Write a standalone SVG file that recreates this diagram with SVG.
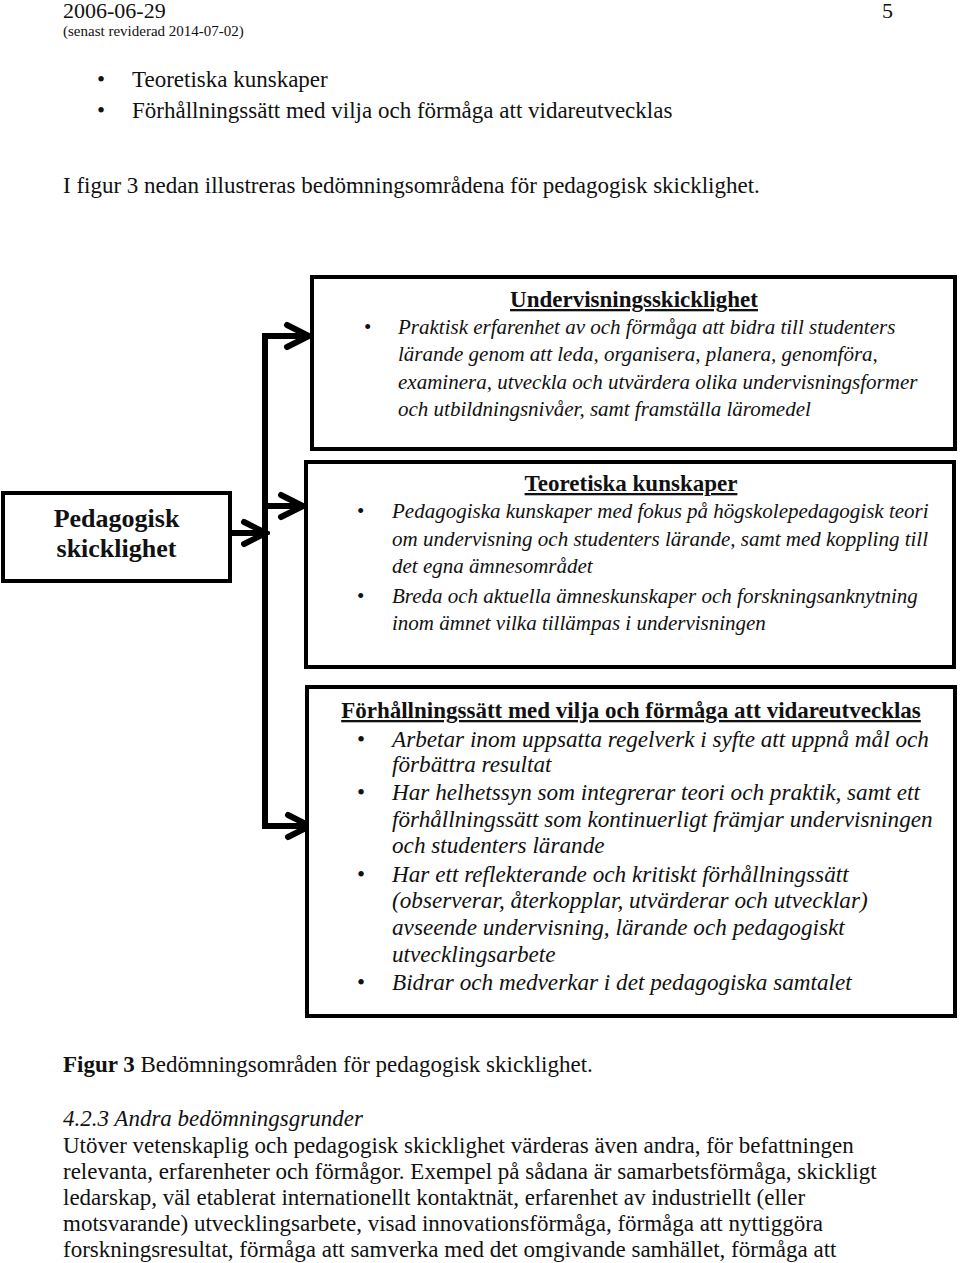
<svg xmlns="http://www.w3.org/2000/svg" width="960" height="1263" viewBox="0 0 960 1263">
<style>
text{font-family:"Liberation Serif","Times New Roman",serif;fill:#111}
.p{font-size:23px}
.hd{font-size:22px}
.sm{font-size:15px}
.it{font-style:italic}
.b{font-weight:bold}
.t{font-size:23px;font-weight:bold;text-decoration:underline;text-anchor:middle}
.i1{font-size:21px;font-style:italic}
.i3{font-size:23.2px;font-style:italic}
.bl{font-size:21px}
.box{fill:#fff;stroke:#000;stroke-width:4}
.con{fill:none;stroke:#000;stroke-width:6}
</style>
<defs>
<marker id="chev" viewBox="-30 -16 34 32" refX="0" refY="0" markerWidth="34" markerHeight="32" markerUnits="userSpaceOnUse" orient="auto">
<path d="M-22,-11 L0,0 L-22,11" fill="none" stroke="#000" stroke-width="6" stroke-linecap="round" stroke-linejoin="miter"/>
</marker>
</defs>
<rect width="960" height="1263" fill="#fff"/>

<g id="header">
<text class="hd" x="63" y="18">2006-06-29</text>
<text class="hd" x="882" y="18">5</text>
<text class="sm" x="63" y="36">(senast reviderad 2014-07-02)</text>
<text class="p" x="97" y="87">•</text>
<text class="p" x="132" y="87">Teoretiska kunskaper</text>
<text class="p" x="97" y="118">•</text>
<text class="p" x="132" y="118">Förhållningssätt med vilja och förmåga att vidareutvecklas</text>
<text class="p" x="63" y="193">I figur 3 nedan illustreras bedömningsområdena för pedagogisk skicklighet.</text>
</g>

<g id="connectors">
<path class="con" d="M265,826 V333"/>
<path class="con" d="M262,336 H309" marker-end="url(#chev)"/>
<path class="con" d="M265,506 H303" marker-end="url(#chev)"/>
<path class="con" d="M230,533 H266" marker-end="url(#chev)"/>
<path class="con" d="M262,826 H310" marker-end="url(#chev)"/>
</g>

<g id="node-pedagogisk">
<rect class="box" x="3" y="493" width="227" height="88"/>
<text class="b" font-size="26" x="116.5" y="527" text-anchor="middle">Pedagogisk</text>
<text class="b" font-size="26" x="116.5" y="557" text-anchor="middle">skicklighet</text>
</g>

<g id="node-undervisning">
<rect class="box" x="312" y="277" width="643" height="172"/>
<text class="t" x="634" y="307">Undervisningsskicklighet</text>
<text class="bl" x="364" y="334">•</text>
<text class="i1" x="398" y="334">Praktisk erfarenhet av och förmåga att bidra till studenters</text>
<text class="i1" x="398" y="361">lärande genom att leda, organisera, planera, genomföra,</text>
<text class="i1" x="398" y="389">examinera, utveckla och utvärdera olika undervisningsformer</text>
<text class="i1" x="398" y="416">och utbildningsnivåer, samt framställa läromedel</text>
</g>

<g id="node-teoretiska">
<rect class="box" x="306" y="462" width="648" height="205"/>
<text class="t" x="631" y="491">Teoretiska kunskaper</text>
<text class="bl" x="357" y="518">•</text>
<text class="i1" x="392" y="518">Pedagogiska kunskaper med fokus på högskolepedagogisk teori</text>
<text class="i1" x="392" y="546">om undervisning och studenters lärande, samt med koppling till</text>
<text class="i1" x="392" y="573">det egna ämnesområdet</text>
<text class="bl" x="357" y="603">•</text>
<text class="i1" x="392" y="603">Breda och aktuella ämneskunskaper och forskningsanknytning</text>
<text class="i1" x="392" y="630">inom ämnet vilka tillämpas i undervisningen</text>
</g>

<g id="node-forhallningssatt">
<rect class="box" x="307" y="687" width="648" height="329"/>
<text class="t" x="631" y="718">Förhållningssätt med vilja och förmåga att vidareutvecklas</text>
<text class="p" x="357" y="747">•</text>
<text class="i3" x="392" y="747">Arbetar inom uppsatta regelverk i syfte att uppnå mål och</text>
<text class="i3" x="392" y="772">förbättra resultat</text>
<text class="p" x="357" y="800">•</text>
<text class="i3" x="392" y="800">Har helhetssyn som integrerar teori och praktik, samt ett</text>
<text class="i3" x="392" y="827">förhållningssätt som kontinuerligt främjar undervisningen</text>
<text class="i3" x="392" y="853">och studenters lärande</text>
<text class="p" x="357" y="882">•</text>
<text class="i3" x="392" y="882">Har ett reflekterande och kritiskt förhållningssätt</text>
<text class="i3" x="392" y="908">(observerar, återkopplar, utvärderar och utvecklar)</text>
<text class="i3" x="392" y="935">avseende undervisning, lärande och pedagogiskt</text>
<text class="i3" x="392" y="962">utvecklingsarbete</text>
<text class="p" x="357" y="990">•</text>
<text class="i3" x="392" y="990">Bidrar och medverkar i det pedagogiska samtalet</text>
</g>

<g id="footer">
<text class="p" x="63" y="1072"><tspan class="b">Figur 3</tspan>  Bedömningsområden för pedagogisk skicklighet.</text>
<text class="p it" x="63" y="1126">4.2.3 Andra bedömningsgrunder</text>
<text class="p" x="63" y="1153">Utöver vetenskaplig och pedagogisk skicklighet värderas även andra, för befattningen</text>
<text class="p" x="63" y="1179">relevanta, erfarenheter och förmågor. Exempel på sådana är samarbetsförmåga, skickligt</text>
<text class="p" x="63" y="1205">ledarskap, väl etablerat internationellt kontaktnät, erfarenhet av industriellt (eller</text>
<text class="p" x="63" y="1231">motsvarande) utvecklingsarbete, visad innovationsförmåga, förmåga att nyttiggöra</text>
<text class="p" x="63" y="1257">forskningsresultat, förmåga att samverka med det omgivande samhället, förmåga att</text>
</g>
</svg>
